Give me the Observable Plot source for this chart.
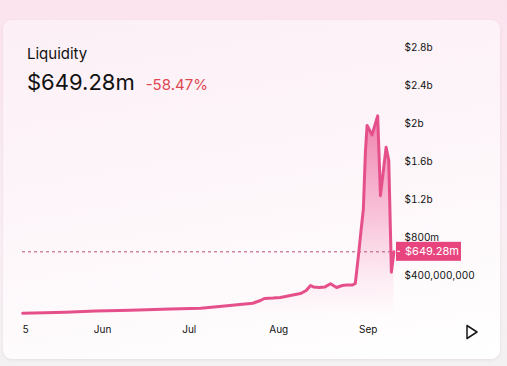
<!DOCTYPE html>
<html>
<head>
<meta charset="utf-8">
<script src="https://cdn.jsdelivr.net/npm/d3@7"></script>
<script src="https://cdn.jsdelivr.net/npm/@observablehq/plot@0.6"></script>
<style>
  html, body { margin: 0; padding: 0; }
  body {
    width: 507px; height: 366px; overflow: hidden; position: relative;
    background: linear-gradient(180deg, #fbe3ee 0%, #f9eef3 60%, #f3f1f2 100%);
    font-family: Inter, "Noto Sans", sans-serif;
  }
  #card {
    position: absolute; left: 3px; top: 20px; width: 497px; height: 339px;
    border-radius: 9px;
    background: linear-gradient(170deg, #fcf0f6 0%, #fdf5f9 45%, #ffffff 100%);
    box-shadow: 0 1px 3px rgba(180,140,160,0.18);
  }
  #title { position: absolute; left: 27px; top: 46px; font-size: 15px; line-height: 15px; color: #111; }
  #valueRow { position: absolute; left: 27px; top: 71px; display: flex; align-items: baseline; gap: 11px; line-height: 22px; }
  #value { font-size: 22px; color: #111; }
  #change { font-size: 15px; color: #df4750; }
  #chart { position: absolute; left: 0; top: 0; }
  #play { position: absolute; left: 462px; top: 322px; }
</style>
</head>
<body>
<div id="card"></div>
<div id="title">Liquidity</div>
<div id="valueRow"><span id="value"></span><span id="change"></span></div>
<div id="chart"></div>
<svg id="play" width="20" height="20" viewBox="0 0 20 20"><polygon points="5,3.5 15,10 5,16.5" fill="none" stroke="#1a1a1a" stroke-width="1.5" stroke-linejoin="round"/></svg>
<script>
const titleText = "Liquidity";
const currentLabel = "$649.28m";
const changeLabel = "-58.47%";
const currentValue = 649.28e6;

const dates = [
  "2025-05-04 08", "2025-05-12 00", "2025-05-19 05", "2025-05-29 14", "2025-06-10 16",
  "2025-06-24 12", "2025-07-05 00", "2025-07-15 00", "2025-07-23 00", "2025-07-25 16",
  "2025-07-27 00", "2025-07-30 00", "2025-08-01 14", "2025-08-05 00", "2025-08-08 12",
  "2025-08-10 12", "2025-08-12 00", "2025-08-13 00", "2025-08-15 00", "2025-08-17 00",
  "2025-08-18 22", "2025-08-21 00", "2025-08-23 00", "2025-08-24 12", "2025-08-26 12",
  "2025-08-27 12", "2025-08-28 14", "2025-08-29 14", "2025-08-30 07", "2025-08-31 00",
  "2025-08-31 14", "2025-09-02 07", "2025-09-04 06", "2025-09-05 05", "2025-09-07 04",
  "2025-09-08 02", "2025-09-09 00", "2025-09-09 21"
];
const values = [
  3e6, 8e6, 14e6, 26e6, 34e6,
  47e6, 56e6, 84e6, 108e6, 137e6,
  158e6, 162e6, 168e6, 190e6, 210e6,
  242e6, 295e6, 280e6, 274e6, 280e6,
  313e6, 274e6, 295e6, 300e6, 300e6,
  316e6, 610e6, 900e6, 1.1e9, 1.7e9,
  1.98e9, 1.88e9, 2.08e9, 1.24e9, 1.75e9,
  1.61e9, 435e6, 649.28e6
];

const xTicks = ["2025-05-05 10", "2025-06-01 00", "2025-07-01 00", "2025-08-01 00", "2025-09-01 00"];
const xTickLabels = ["5", "Jun", "Jul", "Aug", "Sep"];
const yTicks = [4e8, 8e8, 1.2e9, 1.6e9, 2e9, 2.4e9, 2.8e9];
const yTickLabels = ["$400,000,000", "$800m", "$1.2b", "$1.6b", "$2b", "$2.4b", "$2.8b"];
const xDomain = ["2025-05-04 07", "2025-09-10 10"];

document.getElementById("title").textContent = titleText;
document.getElementById("value").textContent = currentLabel;
document.getElementById("change").textContent = changeLabel;

const parse = d3.utcParse("%Y-%m-%d %H");
const data = dates.map((d, i) => ({date: parse(d), value: values[i]}));
const xt = xTicks.map(parse);

const gradientDefs = () => {
  const defs = d3.create("svg:defs");
  const g = defs.append("linearGradient").attr("id", "liqGrad").attr("x1", 0).attr("x2", 0).attr("y1", 0).attr("y2", 1);
  g.append("stop").attr("offset", "0%").attr("stop-color", "#ea4f8d").attr("stop-opacity", 0.7);
  g.append("stop").attr("offset", "55%").attr("stop-color", "#f06ea3").attr("stop-opacity", 0.35);
  g.append("stop").attr("offset", "100%").attr("stop-color", "#f7a8c8").attr("stop-opacity", 0.02);
  return defs.node();
};

const priceBox = (index, scales, values, dims) => {
  const y = scales.y(currentValue);
  const x0 = dims.width - dims.marginRight;
  const g = d3.create("svg:g");
  g.append("rect").attr("x", x0 + 1).attr("y", y - 9.5).attr("width", 65).attr("height", 19).attr("fill", "#e8457f");
  g.append("line").attr("x1", x0 + 2).attr("x2", x0 + 5).attr("y1", y).attr("y2", y).attr("stroke", "white").attr("stroke-width", 1);
  g.append("text").attr("x", x0 + 10).attr("y", y).attr("dy", "0.35em").attr("fill", "white")
    .attr("text-anchor", "start").attr("font-size", 11).attr("font-family", "Inter, sans-serif").text(currentLabel);
  return g.node();
};

const chart = Plot.plot({
  width: 507,
  height: 366,
  marginLeft: 22,
  marginRight: 112,
  marginTop: 47,
  marginBottom: 53,
  style: {background: "transparent", fontFamily: "Inter, sans-serif", fontSize: "10px", color: "#111", overflow: "visible"},
  x: {type: "utc", domain: xDomain.map(parse)},
  y: {domain: [0, 2.8e9]},
  marks: [
    gradientDefs,
    Plot.areaY(data, {x: "date", y: "value", fill: "url(#liqGrad)"}),
    Plot.ruleY([currentValue], {stroke: "#b8507a", strokeWidth: 1, strokeDasharray: "3,3"}),
    Plot.lineY(data, {x: "date", y: "value", stroke: "#e5508b", strokeWidth: 3, strokeLinejoin: "round"}),
    Plot.axisY({anchor: "right", ticks: yTicks, tickFormat: (d, i) => yTickLabels[yTicks.indexOf(d)], tickSize: 0, tickPadding: 9, label: null, fill: "#111"}),
    Plot.axisX({ticks: xt, tickFormat: (d) => xTickLabels[xt.findIndex(t => +t === +d)], tickSize: 0, tickPadding: 12, label: null, fill: "#111"}),
    priceBox
  ]
});
document.getElementById("chart").appendChild(chart);
</script>
</body>
</html>
